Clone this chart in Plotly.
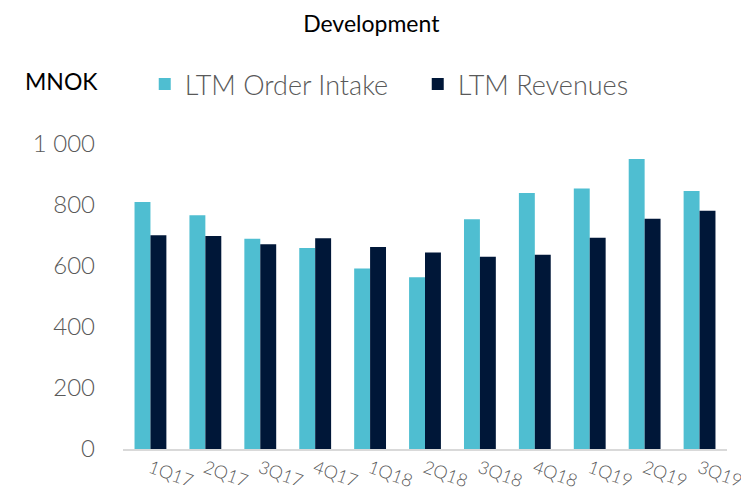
import plotly.graph_objects as go

categories = ["1Q17", "2Q17", "3Q17", "4Q17", "1Q18", "2Q18", "3Q18", "4Q18", "1Q19", "2Q19", "3Q19"]
order_intake = [810, 766, 689, 659, 592, 563, 753, 839, 854, 951, 846]
revenues = [701, 698, 671, 691, 662, 644, 630, 637, 693, 755, 781]
y_tickvals = [0, 200, 400, 600, 800, 1000]
y_ticktext = ["0", "200", "400", "600", "800", "1 000"]

FONT = "Lato"
fig = go.Figure()
fig.add_trace(go.Bar(x=categories, y=order_intake, name="LTM Order Intake",
                     marker=dict(color="#4FBED1", line=dict(width=0))))
fig.add_trace(go.Bar(x=categories, y=revenues, name="LTM Revenues",
                     marker=dict(color="#001738", line=dict(width=0))))

fig.update_layout(
    width=749, height=499,
    margin=dict(l=115, r=27, t=136, b=58),
    paper_bgcolor="white", plot_bgcolor="white",
    barmode="group", bargap=0.42, bargroupgap=0,
    font=dict(family=FONT, color="#595959"),
    title=dict(text="Development", x=0.485, xanchor="center", y=0.968, yanchor="middle",
               font=dict(family=FONT, size=23, color="black")),
    legend=dict(orientation="h", x=0.036, xanchor="left", y=1.195, yanchor="middle",
                font=dict(family=FONT, size=27, color="#595959", weight=300),
                itemwidth=30, entrywidth=228, bgcolor="rgba(0,0,0,0)"),
    showlegend=True,
)
fig.update_yaxes(range=[0, 1000], tickvals=y_tickvals, ticktext=y_ticktext,
                 showgrid=False, zeroline=False, showline=False,
                 tickfont=dict(family=FONT, size=24, color="#595959", weight=300),
                 ticklabelstandoff=27)
fig.update_xaxes(showgrid=False, showline=True, linecolor="#D9D9D9", linewidth=2,
                 tickangle=20, ticks="",
                 tickfont=dict(family=FONT, size=18, color="#595959", weight=300))
fig.add_annotation(text="MNOK", xref="paper", yref="paper", x=-0.165, y=1.207,
                   xanchor="left", yanchor="middle", showarrow=False,
                   font=dict(family=FONT, size=23, color="black", weight=400))
fig.write_html("out.html")
